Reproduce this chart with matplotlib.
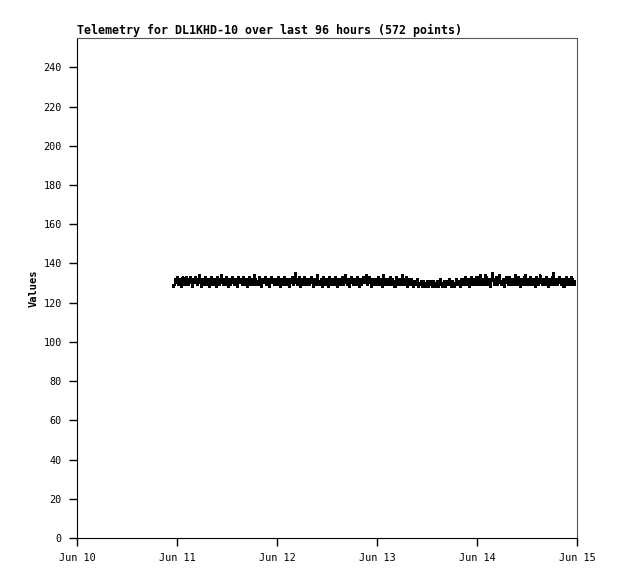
import pandas as pd
import matplotlib
matplotlib.use("Agg")
import matplotlib.pyplot as plt
import matplotlib.dates as mdates

title = "Telemetry for DL1KHD-10 over last 96 hours (572 points)"
t_start = "2023-06-10 23:00"
t_end = "2023-06-14 23:30"

# values, one row ~ 4 hours
values = [
    128,129,129,132,131,130,133,131,129,130,132,130,128,131,133,132,129,130,131,133,130,129,132,131,
    130,133,132,129,128,131,132,130,133,131,129,130,132,134,131,130,128,130,132,131,129,131,133,130,
    129,131,132,130,128,129,132,133,130,131,129,132,131,128,130,133,132,130,129,131,134,132,130,129,
    131,132,129,130,133,131,128,130,132,131,129,130,133,132,130,129,131,132,130,128,131,133,131,130,
    132,130,129,131,133,130,129,132,131,128,130,132,133,131,129,130,132,130,129,131,134,132,129,130,
    131,129,130,133,131,128,129,132,131,130,132,133,130,129,131,132,129,128,130,133,131,130,132,131,
    129,130,132,131,129,131,133,130,128,130,132,131,129,130,133,132,130,129,131,132,130,128,131,132,
    130,133,131,129,130,132,135,132,130,129,131,133,131,128,130,132,131,129,130,133,132,129,131,130,
    132,130,129,131,133,131,130,128,131,132,130,129,132,134,131,130,129,131,132,130,128,130,133,131,
    129,131,132,130,128,131,133,132,130,129,131,132,130,129,131,133,131,128,130,132,131,129,130,132,
    133,131,129,130,132,134,131,129,130,132,131,128,130,133,132,130,129,131,132,130,129,131,133,130,
    128,130,132,131,129,130,133,131,130,132,134,132,129,130,131,133,130,128,131,132,130,129,131,132,
    130,129,132,133,131,129,130,132,131,128,131,134,132,130,129,131,132,130,129,131,133,131,129,130,
    132,131,129,128,131,133,132,130,129,131,132,130,129,131,134,132,130,129,131,133,131,128,130,132,
    131,129,130,132,130,128,129,131,130,129,131,132,130,128,129,130,131,129,128,130,131,130,129,128,
    130,131,129,128,130,131,129,130,128,129,131,130,129,128,130,131,130,128,129,130,132,130,129,128,
    129,131,130,128,129,131,130,129,131,132,130,128,129,131,130,129,128,130,132,131,129,130,131,129,
    128,130,132,131,129,130,132,133,130,129,131,132,130,128,130,133,131,129,130,132,131,129,131,133,
    131,129,130,133,134,131,129,131,132,130,129,131,134,133,130,129,131,132,130,128,131,133,135,132,
    130,129,131,133,131,129,130,132,134,131,130,129,131,132,130,128,130,133,132,130,129,131,133,131,
    129,130,132,131,129,131,134,132,130,129,131,133,131,128,130,132,131,129,131,133,134,131,129,130,
    132,130,129,131,133,131,129,130,132,131,128,130,133,132,130,129,131,134,132,130,129,131,132,130,
    129,131,133,131,130,128,131,132,130,129,131,133,135,132,129,130,132,131,129,130,133,132,130,129,
    131,132,130,128,129,132,133,131,129,130,132,131,129,130,133,132,130,129,131,129,
]
times = pd.date_range(t_start, t_end, periods=len(values))

mono = ["DejaVu Sans Mono"]
plt.rcParams["font.family"] = mono

fig = plt.figure(figsize=(6.18, 5.79), dpi=100)
ax = fig.add_axes([77/618, 41/579, 500/618, 500/579])

ax.plot(times, values, color="black", lw=1.0, drawstyle="steps-post", antialiased=False)

ax.set_xlim(pd.Timestamp("2023-06-10"), pd.Timestamp("2023-06-15"))
ax.set_ylim(0, 255)
ax.set_yticks(range(0, 241, 20))
ax.xaxis.set_major_locator(mdates.DayLocator())
ax.xaxis.set_major_formatter(mdates.DateFormatter("%b %d"))

ax.tick_params(direction="out", length=6, width=1, labelsize=7.3, pad=5)
ax.tick_params(top=False, right=False)
for s in ["left", "bottom"]:
    ax.spines[s].set_color("black")
for s in ["top", "right"]:
    ax.spines[s].set_color("#555555")

ax.set_ylabel("Values", fontsize=7.5, fontweight="bold", labelpad=3)
ax.set_title(title, loc="left", fontsize=8.4, fontweight="bold", pad=3)

fig.savefig("out.png", dpi=100)
